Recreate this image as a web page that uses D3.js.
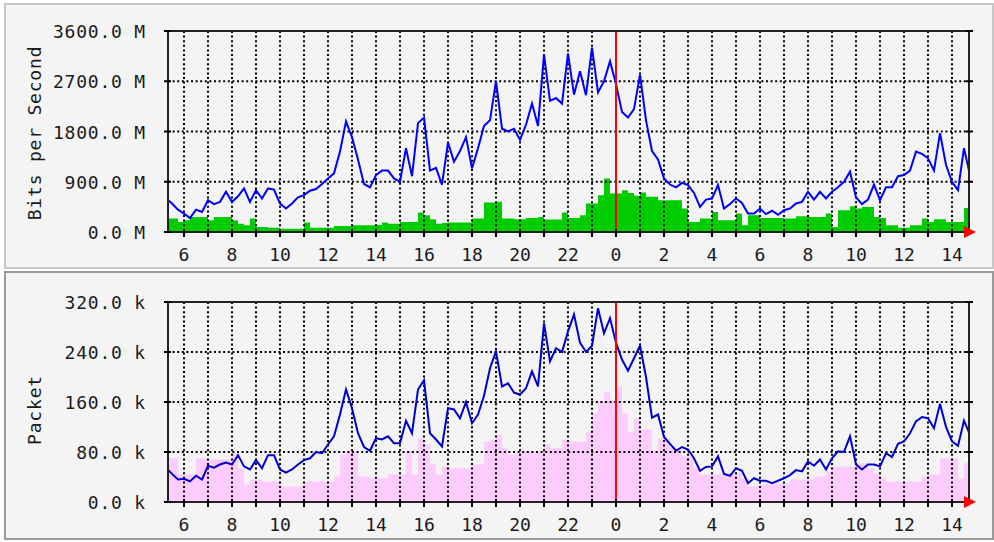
<!DOCTYPE html>
<html><head><meta charset="utf-8">
<script src="https://cdn.jsdelivr.net/npm/d3@7"></script>
<style>body{margin:0;background:#fff}svg{display:block}</style>
</head><body><svg id="c" width="994" height="542"></svg>
<script>
// time grid (hours since midnight of day 1), 15-minute steps
const hours = d3.range(135).map(i => 5.25 + i * 0.25);

// Bits per second, incoming (blue line), in M
const bitsIn = [
  600,510,400,
  330,250,400,360, 570,500,540,720, 540,640,780,540, 750,600,780,760,
  510,420,510,620, 660,740,770,860, 960,1050,1440,1980, 1700,1300,860,800,
  1020,1100,1100,960, 900,1500,1000,1950, 2050,1100,1150,850, 1600,1260,1450,1700,
  1140,1500,1900,2000, 2700,1850,1800,1850, 1650,1920,2300,1900, 3180,2350,2400,2300,
  3200,2460,2880,2450, 3300,2500,2700,3060, 2650,2150,2050,2200, 2820,2000,1450,1300,
  960,850,800,880, 840,700,450,580, 600,840,420,500, 600,520,330,330,
  420,320,380,310, 390,420,510,540, 720,580,720,600, 720,800,900,1080,
  620,500,580,850, 570,800,800,1000, 1020,1100,1440,1400, 1320,1100,1770,1200,
  900,750,1500,1020
];
// Bits per second, outgoing (green area), in M
const bitsOut = [
  240,240,180,
  210,270,270,270, 210,270,270,270, 210,150,120,240, 90,90,78,78,
  60,60,60,60, 168,78,78,78, 78,108,108,108, 120,120,120,120,
  130,168,150,150, 180,180,180,348, 300,228,150,160, 168,168,168,168,
  240,240,528,528, 540,240,240,228, 228,252,252,270, 222,222,222,348,
  252,252,300,510, 510,660,960,690, 690,750,700,650, 708,630,630,570,
  570,570,570,420, 180,180,240,240, 360,210,210,210, 330,120,300,300,
  252,252,252,252, 240,240,282,282, 270,270,270,330, 90,390,390,462,
  420,450,450,270, 252,120,120,78, 78,120,120,240, 180,228,228,180,
  180,180,432,180
];
// Packets, incoming (blue line), in k
const pktIn = [
  55,45,36,
  37,33,42,36, 58,55,60,63, 60,75,57,52, 67,54,75,75,
  52,47,52,60, 67,70,80,78, 92,105,140,180, 150,110,88,82,
  102,100,105,94, 94,130,110,180, 195,110,100,89, 150,148,134,160,
  126,140,170,214, 241,185,190,175, 172,182,209,185, 286,225,246,240,
  273,300,255,240, 250,310,270,294, 255,228,210,230, 250,200,135,140,
  104,93,82,88, 84,70,50,56, 57,73,45,42, 54,50,30,38,
  34,34,30,34, 38,43,51,49, 65,58,68,52, 70,81,80,105,
  60,52,60,60, 57,78,72,93, 97,110,129,136, 134,118,157,120,
  97,90,130,108
];
// Packets, outgoing (pink area), in k
const pktOut = [
  70,70,44,
  44,44,70,70, 68,68,68,68, 78,54,28,36, 36,33,33,33,
  25,25,25,25, 33,33,33,33, 33,41,76,82, 82,41,41,38,
  38,38,44,44, 44,81,44,102, 92,60,44,57, 54,54,54,54,
  60,60,97,100, 108,86,76,76, 81,81,81,81, 92,86,86,100,
  97,97,97,113, 142,161,177,164, 185,142,113,134, 116,116,81,102,
  102,86,86,73, 73,54,44,44, 44,44,46,46, 46,38,25,25,
  28,28,28,30, 30,36,36,36, 36,41,41,49, 57,57,57,57,
  62,62,54,46, 38,33,33,33, 33,33,33,41, 44,44,70,70,
  70,38,62,62
];

const xTickHours = d3.range(6, 39, 1);          // grid every hour
const xLabelHours = d3.range(6, 39, 2);         // labels every 2 hours
const bitsTicks = [0, 900, 1800, 2700, 3600];
const pktTicks = [0, 80, 160, 240, 320];
const midnight = 24;

const svg = d3.select('#c');
const FONT = "'DejaVu Sans Mono', monospace";

// panel frames
svg.append('rect').attr('x', 0).attr('y', 0).attr('width', 994).attr('height', 542).attr('fill', '#ffffff');
svg.append('rect').attr('x', 5).attr('y', 4).attr('width', 988).attr('height', 264)
  .attr('fill', '#f4f4f4').attr('stroke', '#c8c8c8').attr('stroke-width', 2);
svg.append('rect').attr('x', 5).attr('y', 272).attr('width', 988).attr('height', 267)
  .attr('fill', '#f4f4f4').attr('stroke', '#9a9a9a').attr('stroke-width', 2);

const x = d3.scaleLinear().domain([5 + 1/3, 38 + 17/24]).range([168, 969]);

function panel(cfg) {
  const y = d3.scaleLinear().domain([cfg.ticks[0], cfg.ticks[cfg.ticks.length - 1]]).range([cfg.bottom, cfg.top]);
  const g = svg.append('g');
  const clipId = 'clip' + cfg.id;
  svg.append('clipPath').attr('id', clipId).append('rect')
    .attr('x', x.range()[0]).attr('y', cfg.top).attr('width', x.range()[1] - x.range()[0]).attr('height', cfg.bottom - cfg.top);

  // area (outgoing)
  const area = d3.area().curve(d3.curveStepAfter)
    .x((d, i) => x(hours[i])).y0(y(0)).y1(d => y(d));
  g.append('path').datum(cfg.area).attr('d', area).attr('fill', cfg.areaColor)
    .attr('clip-path', `url(#${clipId})`);

  // grid
  const grid = g.append('g').attr('stroke', '#000').attr('stroke-width', 2).attr('stroke-dasharray', '2,2.6');
  grid.selectAll('.vg').data(xTickHours).join('line')
    .attr('x1', d => x(d)).attr('x2', d => x(d)).attr('y1', cfg.top).attr('y2', cfg.bottom);
  grid.selectAll('.hg').data(cfg.ticks.slice(1, -1)).join('line')
    .attr('x1', x.range()[0]).attr('x2', x.range()[1]).attr('y1', d => y(d)).attr('y2', d => y(d));

  // line (incoming)
  const line = d3.line().curve(d3.curveLinear).x((d, i) => x(hours[i])).y(d => y(d));
  g.append('path').datum(cfg.line).attr('d', line).attr('fill', 'none')
    .attr('stroke', cfg.lineColor).attr('stroke-width', 2).attr('stroke-linejoin', 'miter')
    .attr('clip-path', `url(#${clipId})`);

  // midnight marker
  g.append('line').attr('x1', x(midnight)).attr('x2', x(midnight)).attr('y1', cfg.top).attr('y2', cfg.bottom)
    .attr('stroke', '#ff0000').attr('stroke-width', 2);

  // frame
  g.append('rect').attr('x', x.range()[0]).attr('y', cfg.top).attr('width', x.range()[1] - x.range()[0])
    .attr('height', cfg.bottom - cfg.top).attr('fill', 'none').attr('stroke', '#222').attr('stroke-width', 2);

  // y ticks left and right
  g.selectAll('.yt').data(cfg.ticks).join('line')
    .attr('x1', x.range()[0] - 4).attr('x2', x.range()[0] + 3).attr('y1', d => y(d)).attr('y2', d => y(d))
    .attr('stroke', '#000').attr('stroke-width', 2);
  g.selectAll('.yt2').data(cfg.ticks).join('line')
    .attr('x1', x.range()[1] - 3).attr('x2', x.range()[1] + 4).attr('y1', d => y(d)).attr('y2', d => y(d))
    .attr('stroke', '#000').attr('stroke-width', 2);
  // x ticks
  g.selectAll('.xt').data(xTickHours).join('line')
    .attr('x1', d => x(d)).attr('x2', d => x(d)).attr('y1', cfg.bottom - 3).attr('y2', cfg.bottom + 5)
    .attr('stroke', '#000').attr('stroke-width', 2);

  // arrow
  const b = cfg.bottom, r = x.range()[1];
  g.append('path').attr('d', `M${r - 5},${b - 6} L${r + 7},${b} L${r - 5},${b + 6} Z`).attr('fill', '#ff0000');

  // labels
  g.selectAll('.yl').data(cfg.ticks).join('text')
    .attr('x', 146).attr('y', d => y(d) + 7).attr('text-anchor', 'end')
    .attr('font-family', FONT).attr('font-size', 18).attr('letter-spacing', 0.8).attr('fill', '#1a1a1a')
    .text(d => d.toFixed(1) + ' ' + cfg.unit);
  g.selectAll('.xl').data(xLabelHours).join('text')
    .attr('x', d => x(d)).attr('y', cfg.bottom + 29).attr('text-anchor', 'middle')
    .attr('font-family', FONT).attr('font-size', 18).attr('fill', '#1a1a1a')
    .text(d => String(d % 24));
  g.append('text').attr('transform', `translate(41,${cfg.titleY}) rotate(-90)`).attr('text-anchor', 'middle')
    .attr('font-family', FONT).attr('font-size', 18).attr('letter-spacing', 0.8).attr('fill', '#1a1a1a')
    .text(cfg.title);
}

panel({ id: 'a', top: 31, bottom: 232, ticks: bitsTicks, unit: 'M', line: bitsIn, area: bitsOut,
  lineColor: '#0000ff', areaColor: '#00cc00', title: 'Bits per Second', titleY: 133 });
panel({ id: 'b', top: 302, bottom: 502, ticks: pktTicks, unit: 'k', line: pktIn, area: pktOut,
  lineColor: '#0000cc', areaColor: '#ffccff', title: 'Packet', titleY: 410 });
</script>
</body></html>
